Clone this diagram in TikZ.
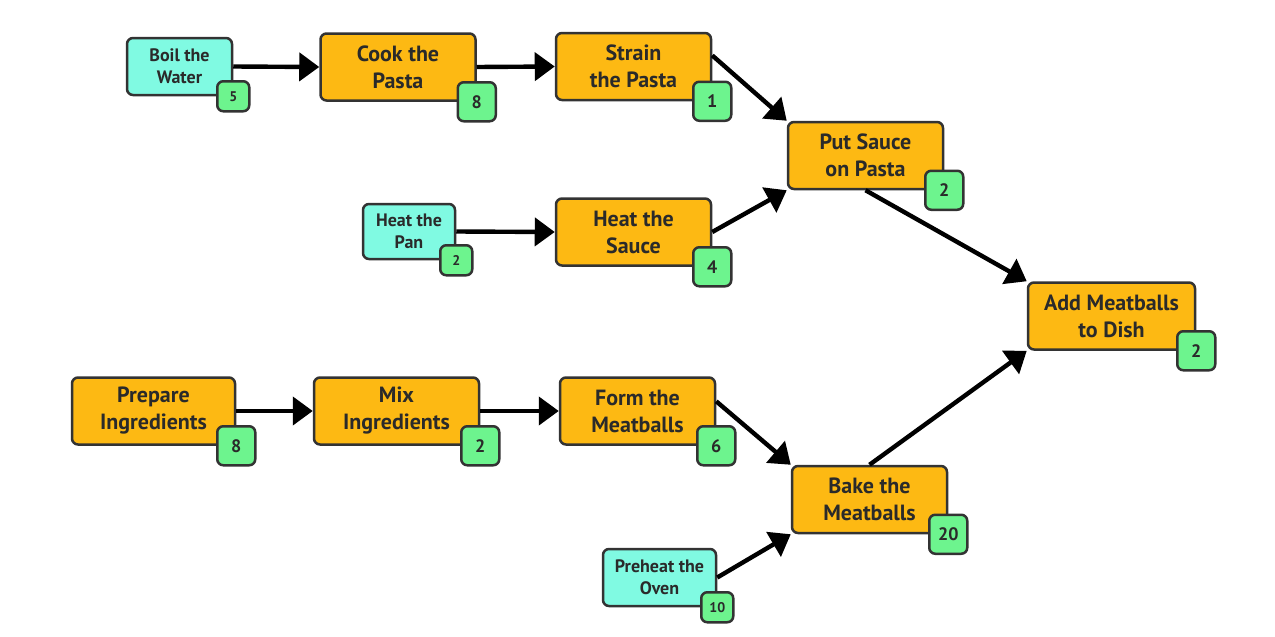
\documentclass[tikz,border=0pt]{standalone}
\usepackage{fontspec}
\setmainfont{PT Sans}
\usetikzlibrary{positioning,arrows.meta}
\definecolor{taskfill}{HTML}{FDB913}
\definecolor{prepfill}{HTML}{80FAE2}
\definecolor{timefill}{HTML}{6DF48E}
\definecolor{inkline}{HTML}{333333}
\definecolor{inktext}{HTML}{2A2A2A}

\begin{document}
\begin{tikzpicture}[x=0.5pt,y=-0.5pt,
  task/.style={draw=inkline,line width=1.25pt,rounded corners=3pt,fill=taskfill,
    minimum width=77.5pt,minimum height=33.5pt,align=center,inner sep=1pt,
    text=inktext,font=\fontsize{11}{13.5}\selectfont\bfseries},
  prep/.style={task,fill=prepfill,minimum height=28.5pt,
    font=\fontsize{9}{11}\selectfont\bfseries},
  bigtime/.style={draw=inkline,line width=1.25pt,rounded corners=3pt,fill=timefill,
    minimum width=19pt,minimum height=19.5pt,inner sep=0pt,text=inktext,
    font=\fontsize{9}{9}\selectfont\bfseries},
  smalltime/.style={bigtime,minimum width=16pt,minimum height=15pt,
    font=\fontsize{7}{7}\selectfont\bfseries},
  flow/.style={line width=2.2pt,-{Triangle[length=10pt,width=14pt]}}]
\useasboundingbox (0,0) rectangle (1275,637);
% ---- pasta branch ----
\node[prep,minimum width=52.5pt] (boil) at (179.5,66.5) {Boil the\\Water};
\node[task] (cook) at (398,67) {Cook the\\Pasta};
\node[task] (strain) at (633.5,66.5) {Strain\\the Pasta};
\node[task] (sauce) at (865.5,155.5) {Put Sauce\\on Pasta};
\node[prep,minimum width=46pt,minimum height=27.5pt] (pan) at (409,231.5) {Heat the\\Pan};
\node[task] (heat) at (633.5,232) {Heat the\\Sauce};
% ---- final step ----
\node[task,minimum width=83.5pt] (add) at (1111.5,316) {Add Meatballs\\to Dish};
% ---- meatball branch ----
\node[task,minimum width=81.5pt] (ingr) at (153.5,411) {Prepare\\Ingredients};
\node[task,minimum width=82.5pt] (mix) at (396.5,411) {Mix\\Ingredients};
\node[task] (form) at (637.5,411) {Form the\\Meatballs};
\node[task] (bake) at (869.5,499.5) {Bake the\\Meatballs};
\node[prep,minimum width=56.5pt] (oven) at (659.5,577.5) {Preheat the\\Oven};
% ---- durations ----
\foreach \n/\t in {cook/8,strain/1,sauce/2,heat/4,add/2,ingr/8,mix/2,form/6,bake/20}
  \node[bigtime] (\n-t) at (\n.south east) {\t};
\foreach \n/\t in {boil/5,pan/2,oven/10}
  \node[smalltime] (\n-t) at (\n.south east) {\t};
% ---- precedence arrows ----
\foreach \a/\b in {boil.east/cook.west,cook.east/strain.west,strain.8/sauce.north west,
  pan.east/heat.west,heat.east/sauce.south west,sauce.south/add.north west,
  ingr.east/mix.west,mix.east/form.west,form.7/bake.north west,
  oven.east/bake.south west,bake.north/add.south west}
  \draw[flow] (\a) -- (\b);
\end{tikzpicture}
\end{document}
